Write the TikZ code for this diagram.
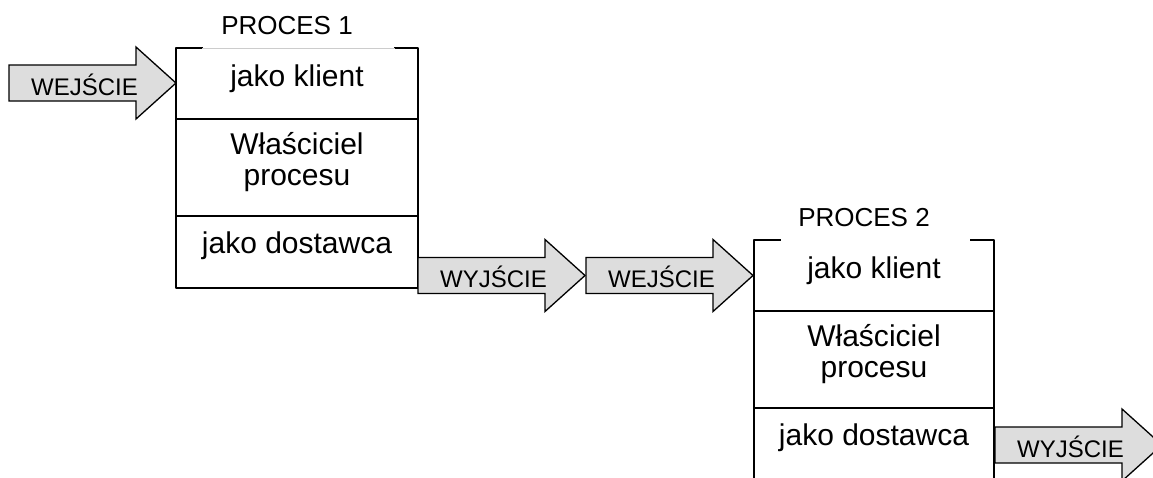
\documentclass[tikz,border=0pt]{standalone}
\usepackage{fontspec}
\setmainfont{Liberation Sans}
\tikzset{
	ramka/.style={line width=1.7pt, line cap=rect},
	strz/.style={draw=black, fill=gray!27, line width=1.3pt, line join=miter},
	opis/.style={font=\fontsize{30}{32}\selectfont, inner sep=0pt, anchor=base},
	strzopis/.style={font=\fontsize{24}{26}\selectfont, inner sep=0pt, anchor=base west},
	tytul/.style={font=\fontsize{26}{28}\selectfont, inner sep=0pt, anchor=base},
}
% strzalka blokowa: lewy koniec, srodek w pionie, nazwa, napis
\newcommand{\blokstrzalka}[4]{%
	\draw[strz] (#1,#2-18)--++(127,0)--++(0,-18)--++(40,36)--++(-40,36)--++(0,-18)--++(-127,0)--cycle;
	\node[strzopis] (#3) at (#1+22,#2+12) {#4};}
\begin{document}
\begin{tikzpicture}[x=1pt, y=-1pt, line join=round]
	\useasboundingbox (0,0) rectangle (1153,477);
	\clip (0,0) rectangle (1153,477);
	\foreach \x/\y/\w/\n in {176/48/242/1, 754/240/240/2}{
		\draw[ramka] (\x+26,\y)--(\x,\y)--(\x,\y+240)--(\x+\w,\y+240)--(\x+\w,\y)--(\x+\w-23,\y);
		\draw[ramka] (\x,\y+71)--(\x+\w,\y+71);
		\draw[ramka] (\x,\y+168)--(\x+\w,\y+168);
		\node[tytul] (t\n) at (\x+\w/2-10,\y-14) {PROCES \n};
		\node[opis] (k\n) at (\x+\w/2,\y+38) {jako klient};
		\node[opis] (w\n) at (\x+\w/2,\y+106) {Właściciel};
		\node[opis] (p\n) at (\x+\w/2,\y+137) {procesu};
		\node[opis] (d\n) at (\x+\w/2,\y+205) {jako dostawca};
	}
	\draw[gray!40, line width=0.6pt] (202,48)--(395,48);
	\blokstrzalka{9}{83}{we1}{WEJŚCIE}
	\blokstrzalka{418}{275.5}{wy1}{WYJŚCIE}
	\blokstrzalka{586}{275.5}{we2}{WEJŚCIE}
	\blokstrzalka{995}{445}{wy2}{WYJŚCIE}
\end{tikzpicture}
\end{document}
